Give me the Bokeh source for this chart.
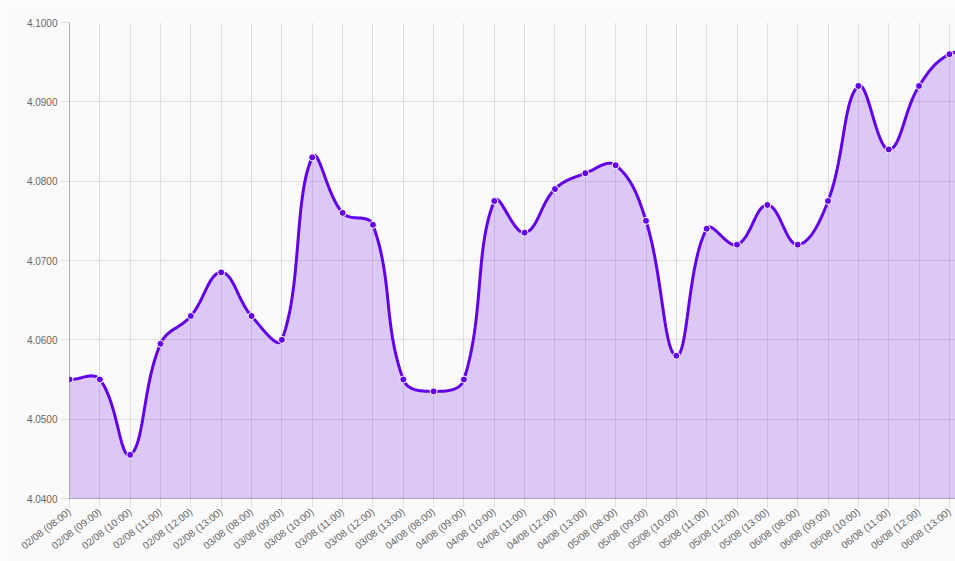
import numpy as np
from bokeh.plotting import figure
from bokeh.models import Range1d, FixedTicker, PrintfTickFormatter
from bokeh.embed import file_html
from bokeh.resources import INLINE

# ---------------- data ----------------
labels = [
    "02/08 (08:00)", "02/08 (09:00)", "02/08 (10:00)", "02/08 (11:00)", "02/08 (12:00)", "02/08 (13:00)",
    "03/08 (08:00)", "03/08 (09:00)", "03/08 (10:00)", "03/08 (11:00)", "03/08 (12:00)", "03/08 (13:00)",
    "04/08 (08:00)", "04/08 (09:00)", "04/08 (10:00)", "04/08 (11:00)", "04/08 (12:00)", "04/08 (13:00)",
    "05/08 (08:00)", "05/08 (09:00)", "05/08 (10:00)", "05/08 (11:00)", "05/08 (12:00)", "05/08 (13:00)",
    "06/08 (08:00)", "06/08 (09:00)", "06/08 (10:00)", "06/08 (11:00)", "06/08 (12:00)", "06/08 (13:00)",
    "07/08 (08:00)",
]
values = [
    4.0550, 4.0550, 4.0455, 4.0595, 4.0630, 4.0685,
    4.0630, 4.0600, 4.0830, 4.0760, 4.0745, 4.0550,
    4.0535, 4.0550, 4.0775, 4.0735, 4.0790, 4.0810,
    4.0820, 4.0750, 4.0580, 4.0740, 4.0720, 4.0770,
    4.0720, 4.0775, 4.0920, 4.0840, 4.0920, 4.0960,
    4.0960,
]
y_ticks = [4.04, 4.05, 4.06, 4.07, 4.08, 4.09, 4.10]

# ---------------- style ----------------
LINE = "#6200ea"
BG = "#fafafa"
TENSION = 0.4
PX_X = 30.345   # approx pixels per category (for bezier control point geometry)
PX_Y = 7933.0   # approx pixels per unit of value
Y_MIN, Y_MAX = 4.04, 4.10
X_END = 29.2
ANGLE = 0.66


def spline_path(xs, ys, tension, sx, sy, n=30):
    """Chart.js-style bezier smoothing (control points computed in pixel space)."""
    px = np.asarray(xs, dtype=float) * sx
    py = np.asarray(ys, dtype=float) * sy
    N = len(px)
    cpp = np.zeros((N, 2))
    cpn = np.zeros((N, 2))
    for i in range(N):
        j0 = max(i - 1, 0)
        j2 = min(i + 1, N - 1)
        d01 = np.hypot(px[i] - px[j0], py[i] - py[j0])
        d12 = np.hypot(px[j2] - px[i], py[j2] - py[i])
        tot = d01 + d12
        s01 = d01 / tot if tot else 0.0
        s12 = d12 / tot if tot else 0.0
        fa, fb = tension * s01, tension * s12
        dx, dy = px[j2] - px[j0], py[j2] - py[j0]
        cpp[i] = (px[i] - fa * dx, py[i] - fa * dy)
        cpn[i] = (px[i] + fb * dx, py[i] + fb * dy)
    outx, outy = [], []
    for i in range(N - 1):
        t = np.linspace(0, 1, n, endpoint=(i == N - 2))
        a = 1 - t
        bx = a**3 * px[i] + 3 * a**2 * t * cpn[i, 0] + 3 * a * t**2 * cpp[i + 1, 0] + t**3 * px[i + 1]
        by = a**3 * py[i] + 3 * a**2 * t * cpn[i, 1] + 3 * a * t**2 * cpp[i + 1, 1] + t**3 * py[i + 1]
        outx.extend(bx / sx)
        outy.extend(by / sy)
    return np.array(outx), np.array(outy)


idx = list(range(len(values)))
cx, cy = spline_path(idx, values, TENSION, PX_X, PX_Y)

p = figure(
    width=955, height=561,
    x_range=Range1d(0, X_END), y_range=Range1d(Y_MIN, Y_MAX),
    output_backend="svg", toolbar_location=None,
    min_border_left=69, min_border_right=0, min_border_top=22, min_border_bottom=63,
    background_fill_color=BG, border_fill_color=BG, outline_line_color=None,
)

p.varea(x=cx, y1=Y_MIN, y2=cy, fill_color=LINE, fill_alpha=0.2)
p.line(cx, cy, line_color=LINE, line_width=3)
p.scatter(idx, values, size=7, fill_color=LINE, line_color="#ffffff", line_width=1)

# grids
for g in (p.xgrid, p.ygrid):
    g.grid_line_color = "#000000"
    g.grid_line_alpha = 0.1

# axes
p.xaxis.ticker = FixedTicker(ticks=idx)
p.xaxis.major_label_overrides = {i: lab for i, lab in enumerate(labels)}
p.xaxis.major_label_orientation = ANGLE
p.yaxis.ticker = FixedTicker(ticks=y_ticks)
p.yaxis.formatter = PrintfTickFormatter(format="%.4f")
p.xgrid.ticker = p.xaxis.ticker
p.ygrid.ticker = p.yaxis.ticker

for ax in (p.xaxis, p.yaxis):
    ax.axis_line_color = "#000000"
    ax.axis_line_alpha = 0.3
    ax.major_tick_line_color = "#000000"
    ax.major_tick_line_alpha = 0.1
    ax.major_tick_in = 0
    ax.major_tick_out = 9
    ax.minor_tick_line_color = None
    ax.major_label_text_font = "Liberation Sans"
    ax.major_label_text_font_size = "10px"
    ax.major_label_text_color = "#666666"
    ax.major_label_standoff = 3

open("out.html", "w").write(file_html(p, INLINE))
